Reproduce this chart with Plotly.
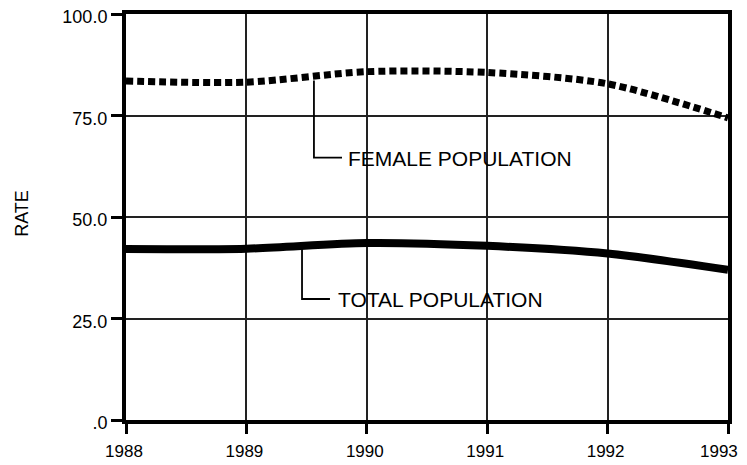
import plotly.graph_objects as go

years = [1988, 1989, 1990, 1991, 1992, 1993]
year_labels = ["1988", "1989", "1990", "1991", "1992", "1993"]
female_rate = [83.5, 83.2, 85.8, 85.6, 82.8, 74.4]
total_rate = [42.1, 42.2, 43.6, 42.9, 41.0, 37.0]
y_ticks = [0, 25, 50, 75, 100]
y_tick_labels = [".0", "25.0", "50.0", "75.0", "100.0"]

# last label padded with non-breaking spaces so it stays inside the visible page
x_ticktext = year_labels[:-1] + [year_labels[-1] + "\u00a0\u00a0\u00a0"]

fig = go.Figure()
fig.add_trace(go.Scatter(x=years, y=female_rate, mode="lines",
                         line=dict(color="black", width=7, dash="7px,4px", shape="spline", smoothing=0.8),
                         showlegend=False, hoverinfo="skip"))
fig.add_trace(go.Scatter(x=years, y=total_rate, mode="lines",
                         line=dict(color="black", width=8, shape="spline", smoothing=0.8),
                         showlegend=False, hoverinfo="skip"))

# leader lines
fig.add_trace(go.Scatter(x=[1989.561, 1989.561, 1989.794], y=[83.6, 64.6, 64.6], mode="lines",
                         line=dict(color="black", width=1.8), showlegend=False, hoverinfo="skip"))
fig.add_trace(go.Scatter(x=[1989.462, 1989.462, 1989.694], y=[42.5, 29.8, 29.8], mode="lines",
                         line=dict(color="black", width=1.8), showlegend=False, hoverinfo="skip"))

fig.add_annotation(x=1989.83, y=64.4, text="FEMALE POPULATION", showarrow=False,
                   xanchor="left", yanchor="middle", font=dict(size=21, color="black"))
fig.add_annotation(x=1989.745, y=29.8, text="TOTAL POPULATION", showarrow=False,
                   xanchor="left", yanchor="middle", font=dict(size=21, color="black"))
fig.add_annotation(xref="paper", yref="paper", x=-0.173, y=0.51, text="RATE", textangle=-90,
                   showarrow=False, xanchor="center", yanchor="middle", font=dict(size=18, color="black"))

# page body has an 8px margin, so the figure is sized/offset to compensate
fig.update_layout(
    width=739, height=457,
    margin=dict(l=118, r=19, t=6, b=45, autoexpand=False),
    paper_bgcolor="white", plot_bgcolor="white",
    font=dict(family="Liberation Sans, Arial, sans-serif", color="black", size=18),
)
fig.update_xaxes(range=[1988, 1993], tickvals=years, ticktext=x_ticktext,
                 showgrid=True, gridcolor="#222", gridwidth=1.6,
                 ticks="outside", ticklen=10, tickwidth=3, tickcolor="black", ticklabelstandoff=3,
                 ticklabeloverflow="allow", ticklabelshift=-2,
                 showline=True, linecolor="black", linewidth=4, mirror=True, zeroline=False,
                 automargin=False, tickfont=dict(size=17))
fig.update_yaxes(range=[0, 100], tickvals=y_ticks, ticktext=y_tick_labels,
                 showgrid=True, gridcolor="#222", gridwidth=1.6,
                 ticks="outside", ticklen=11, tickwidth=3, tickcolor="black", ticklabelstandoff=0,
                 ticklabeloverflow="allow", ticklabelshift=3,
                 showline=True, linecolor="black", linewidth=4, mirror=True, zeroline=False,
                 automargin=False, tickfont=dict(size=18))

fig.write_html("out.html")
